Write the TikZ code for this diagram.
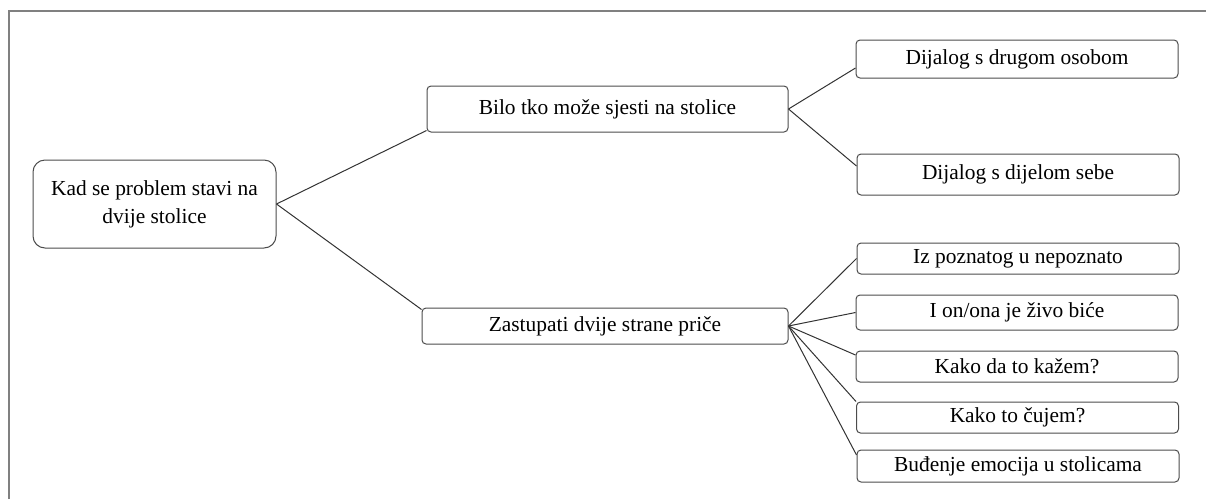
\documentclass[tikz,border=0pt]{standalone}
\usepackage{fontspec}
\setmainfont{Liberation Serif}
\usepackage{tikz}

\begin{document}
\begin{tikzpicture}[x=0.5pt, y=-0.5pt,
    every node/.style={font=\fontsize{10.7}{14}\selectfont},
    box/.style={draw=black!70, line width=0.5pt, rounded corners=2pt, align=center, inner sep=0pt, minimum width=161pt},
    leaf/.style={box, minimum width=161pt},
    link/.style={draw=black!80, line width=0.5pt}]
    \useasboundingbox (0, 0) rectangle (1206, 499);
    \draw [black!50, line width=1pt] (8.5, 499) -- (8.5, 10.5) -- (1206, 10.5);

    \node [box, rounded corners=6pt, minimum width=121.5pt, minimum height=44pt] (root) at (154.5, 204) {Kad se problem stavi na\\dvije stolice};
    \node [box, minimum width=180.5pt, minimum height=23pt] (b1) at (607.5, 109) {Bilo tko može sjesti na stolice};
    \node [box, minimum width=183pt, minimum height=18pt] (b2) at (605, 326) {Zastupati dvije strane priče};

    \node [leaf, minimum height=19pt] (d1) at (1017, 59) {Dijalog s drugom osobom};
    \node [leaf, minimum height=20.5pt] (d2) at (1018, 174.5) {Dijalog s dijelom sebe};

    \node [leaf, minimum height=15.5pt] (z1) at (1018, 258.5) {Iz poznatog u nepoznato};
    \node [leaf, minimum height=17.5pt] (z2) at (1017, 312.5) {I on/ona je živo biće};
    \node [leaf, minimum height=15.5pt] (z3) at (1017, 366.5) {Kako da to kažem?};
    \node [leaf, minimum height=15.5pt] (z4) at (1017.5, 417.5) {Kako to čujem?};
    \node [leaf, minimum height=16pt] (z5) at (1018, 466) {Buđenje emocija u stolicama};

    \draw [link] (root.east) -- ([yshift=1pt]b1.south west);
    \draw [link] (root.east) -- ([yshift=-1pt]b2.north west);
    \draw [link] (b1.east) -- ([yshift=-4.5pt]d1.west);
    \draw [link] (b1.east) -- ([yshift=4.25pt]d2.west);
    \draw [link] (b2.east) -- (z1.west);
    \draw [link] (b2.east) -- (z2.west);
    \draw [link] (b2.east) -- ([yshift=5.75pt]z3.west);
    \draw [link] (b2.east) -- (z4.north west);
    \draw [link] (b2.east) -- ([yshift=5.5pt]z5.west);
\end{tikzpicture}
\end{document}
